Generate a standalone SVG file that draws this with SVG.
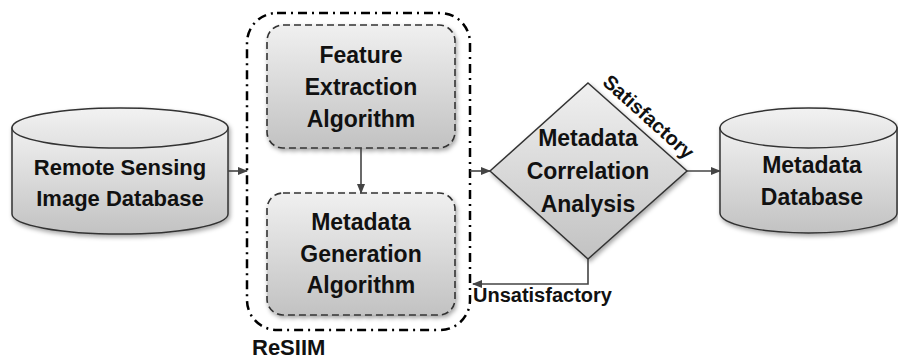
<svg xmlns="http://www.w3.org/2000/svg" width="898" height="360" viewBox="0 0 898 360">
<style>
  text { font-family: "Liberation Sans", Arial, sans-serif; font-weight: bold; fill: #111; }
  .lbl { font-size: 23px; text-anchor: middle; }
  .cyl { font-size: 22px; text-anchor: middle; }
  .edge { font-size: 19px; }
  .shape { stroke: #333; stroke-width: 1.5; }
  .dashed { stroke: #333; stroke-width: 1.6; stroke-dasharray: 7 4; }
  .conn { stroke: #444; stroke-width: 1.6; fill: none; }
</style>
<defs>
  <linearGradient id="g" x1="0" y1="0" x2="0" y2="1">
    <stop offset="0" stop-color="#f0f0f0"/>
    <stop offset="1" stop-color="#c2c2c2"/>
  </linearGradient>
  <linearGradient id="gt" x1="0" y1="0" x2="0" y2="1">
    <stop offset="0" stop-color="#f2f2f2"/>
    <stop offset="1" stop-color="#e0e0e0"/>
  </linearGradient>
  <filter id="sh" x="-10%" y="-10%" width="125%" height="130%">
    <feDropShadow dx="1.5" dy="2.5" stdDeviation="2" flood-color="#000" flood-opacity="0.35"/>
  </filter>
  <marker id="arr" markerWidth="10" markerHeight="8" refX="9" refY="4" orient="auto" markerUnits="userSpaceOnUse">
    <path d="M0,0 L10,4 L0,8 Z" fill="#444"/>
  </marker>
</defs>

<g id="resiim">
  <rect x="247" y="13" width="223" height="317" rx="30" fill="none" stroke="#000" stroke-width="2.5" stroke-dasharray="9 5 2 5"/>
  <text x="252" y="355" style="font-size:22px">ReSIIM</text>
</g>

<g id="remote-db" filter="url(#sh)">
  <path class="shape" d="M12,128 L12,214 A108,20 0 0 0 228,214 L228,128 Z" fill="url(#g)"/>
  <ellipse class="shape" cx="120" cy="128" rx="108" ry="20" fill="url(#gt)"/>
</g>
<g id="remote-db-text">
  <text class="cyl" x="120" y="175">Remote Sensing</text>
  <text class="cyl" x="120" y="206">Image Database</text>
</g>

<g id="feature">
  <rect class="dashed" x="267" y="25" width="188" height="123" rx="16" fill="url(#g)" filter="url(#sh)"/>
  <text class="lbl" x="361" y="63">Feature</text>
  <text class="lbl" x="361" y="95">Extraction</text>
  <text class="lbl" x="361" y="127">Algorithm</text>
</g>

<g id="generation">
  <rect class="dashed" x="267" y="193" width="188" height="122" rx="16" fill="url(#g)" filter="url(#sh)"/>
  <text class="lbl" x="361" y="230">Metadata</text>
  <text class="lbl" x="361" y="262">Generation</text>
  <text class="lbl" x="361" y="293">Algorithm</text>
</g>

<g id="correlation">
  <polygon class="shape" points="588,83 687,171 588,259 490,171" fill="url(#g)" filter="url(#sh)"/>
  <text class="lbl" x="588" y="146">Metadata</text>
  <text class="lbl" x="588" y="179">Correlation</text>
  <text class="lbl" x="588" y="212">Analysis</text>
</g>

<g id="metadata-db" filter="url(#sh)">
  <path class="shape" d="M720,128 L720,213 A88.5,20 0 0 0 897,213 L897,128 Z" fill="url(#g)"/>
  <ellipse class="shape" cx="808.5" cy="128" rx="88.5" ry="20" fill="url(#gt)"/>
</g>
<g id="metadata-db-text">
  <text class="cyl" x="812" y="173" style="font-size:23px">Metadata</text>
  <text class="cyl" x="812" y="205" style="font-size:23px">Database</text>
</g>

<g id="connectors">
  <line class="conn" x1="228" y1="171" x2="247" y2="171" marker-end="url(#arr)"/>
  <line class="conn" x1="361" y1="148" x2="361" y2="193" marker-end="url(#arr)"/>
  <line class="conn" x1="470" y1="171" x2="490" y2="171" marker-end="url(#arr)"/>
  <line class="conn" x1="687" y1="171" x2="720" y2="171" marker-end="url(#arr)"/>
  <polyline class="conn" points="588,259 588,284 473,284" marker-end="url(#arr)"/>
  <text class="edge" x="0" y="0" text-anchor="middle" transform="translate(644,122) rotate(42) " style="font-size:20px">Satisfactory</text>
  <text class="edge" x="473" y="302" style="font-size:20px">Unsatisfactory</text>
</g>
</svg>
